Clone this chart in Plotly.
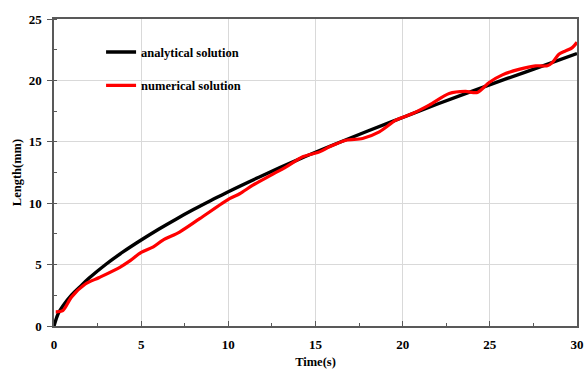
import plotly.graph_objects as go

# Analytical solution
t_analytical = [0, 0.25, 0.5, 1, 1.5, 2, 3, 4, 5, 6, 7, 8, 9, 10, 12, 14, 16, 18, 20, 22, 24, 26, 28, 30]
len_analytical = [0, 1.03, 1.61, 2.51, 3.2, 3.88, 5.05, 6.07, 7.0, 7.88, 8.7, 9.48, 10.22, 10.94,
                  12.28, 13.55, 14.74, 15.88, 16.98, 18.08, 19.13, 20.16, 21.16, 22.19]

# Numerical solution
t_numerical = [0.1, 0.5, 1.0, 1.8, 2.6, 3.8, 4.35, 5.0, 5.7, 6.25, 7.2, 8.36, 10.07, 10.65, 11.41,
               12.4, 13.32, 14.27, 15.23, 15.8, 16.75, 17.7, 18.66, 19.61, 20.57, 21.52, 22.67,
               23.6, 24.29, 24.96, 25.72, 26.67, 27.63, 28.3, 28.58, 28.96, 29.35, 29.73, 30.0]
len_numerical = [1.15, 1.25, 2.35, 3.42, 3.95, 4.8, 5.3, 6.0, 6.45, 7.0, 7.65, 8.74, 10.37, 10.77, 11.47,
                 12.25, 12.96, 13.78, 14.18, 14.59, 15.13, 15.27, 15.81, 16.76, 17.3, 17.98, 18.93,
                 19.1, 19.02, 19.83, 20.45, 20.9, 21.19, 21.19, 21.45, 22.13, 22.4, 22.67, 23.1]

x_ticks = [0, 5, 10, 15, 20, 25, 30]
y_ticks = [0, 5, 10, 15, 20, 25]

FONT = "'Times New Roman', 'Liberation Serif', Times, serif"

fig = go.Figure()
fig.add_trace(go.Scatter(x=t_analytical, y=len_analytical, mode="lines",
                         line=dict(color="#000000", width=3.4, shape="spline"),
                         name="<b>analytical solution</b>", legendgroup="a"))
fig.add_trace(go.Scatter(x=t_numerical, y=len_numerical, mode="lines",
                         line=dict(color="#ff0000", width=3.2, shape="spline", smoothing=0.8),
                         name="<b>numerical solution</b>", legendgroup="n"))

axis_common = dict(
    showgrid=True, gridcolor="#d9d9d9", gridwidth=1,
    showline=True, linecolor="#595959", linewidth=1.5, mirror=True,
    zeroline=False, automargin=False,
    tickfont=dict(family=FONT, size=13, color="#000000"),
)

fig.update_layout(
    width=585, height=369,
    margin=dict(l=54, r=8, t=19, b=43),
    paper_bgcolor="white", plot_bgcolor="white",
    font=dict(family=FONT, color="#000000"),
    showlegend=True,
    legend=dict(x=0.09, y=0.94, xanchor="left", yanchor="top",
                bgcolor="rgba(0,0,0,0)", font=dict(family=FONT, size=12.5, color="#000000"),
                traceorder="grouped", tracegroupgap=14, itemwidth=30),
    xaxis=dict(**axis_common, range=[0, 30], tickvals=x_ticks,
               ticktext=[f"<b>{v}</b>" for v in x_ticks],
               ticks="inside", ticklen=5, tickcolor="#595959", ticklabelstandoff=6,
               minor=dict(dtick=2.5, ticks="inside", ticklen=3, tickcolor="#595959", showgrid=False),
               title=dict(text="<b>Time(s)</b>", font=dict(family=FONT, size=12.5), standoff=9)),
    yaxis=dict(**axis_common, range=[0, 25], tickvals=y_ticks,
               ticktext=[f"<b>{v}</b>" for v in y_ticks],
               ticks="outside", ticklen=5, tickcolor="#595959", ticklabelstandoff=3,
               minor=dict(dtick=2.5, ticks="inside", ticklen=3, tickcolor="#595959", showgrid=False),
               title=dict(text="<b>Length(mm)</b>", font=dict(family=FONT, size=12.5), standoff=4)),
)

fig.write_html("out.html")
